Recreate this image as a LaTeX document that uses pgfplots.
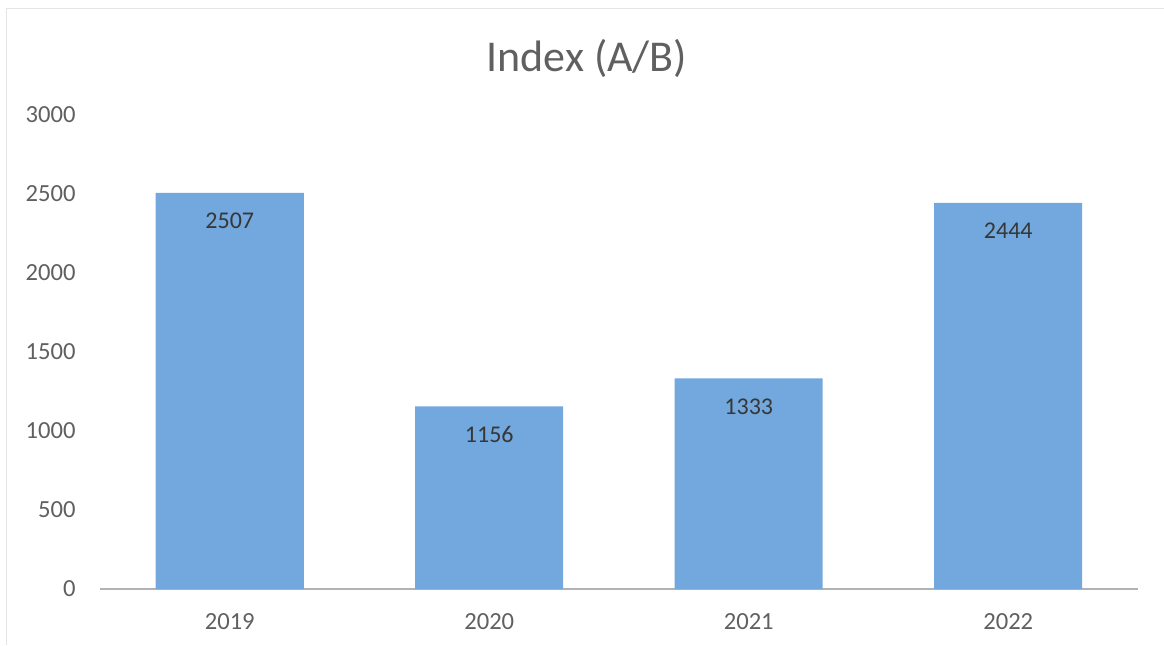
\documentclass[border=0pt]{standalone}
\usepackage{pgfplots}
\pgfplotsset{compat=1.18}
\usepackage{fontspec}
\setmainfont{Carlito}
\definecolor{barblue}{RGB}{114,168,221}
\definecolor{ticktext}{RGB}{96,96,96}
\definecolor{labeltext}{RGB}{55,55,55}
\begin{document}
\begin{tikzpicture}[x=1pt,y=1pt]
\path[use as bounding box] (0,0) rectangle (582,322.5);
\draw[black!10] (3,0) -- (3,318.5) -- (582,318.5);
\node[font=\fontsize{22}{26}\selectfont, text=ticktext] at (293.5,293.5) {Index (A/B)};
\begin{axis}[
  at={(50pt,28pt)}, anchor=south west,
  scale only axis, width=519pt, height=237pt,
  xmin=-0.5, xmax=3.5, ymin=0, ymax=3000,
  ybar, bar width=74pt,
  axis x line=bottom, axis y line=left,
  x axis line style={-, draw=black!30, line width=0.8pt},
  y axis line style={draw=none},
  major tick length=0pt, tick style={draw=none},
  xtick={0,1,2,3}, xticklabels={2019,2020,2021,2022},
  ytick={0,500,1000,1500,2000,2500,3000},
  /pgf/number format/1000 sep={},
  /pgf/number format/assume math mode=true,
  ticklabel style={font=\fontsize{12.3}{14}\selectfont, text=ticktext},
  yticklabel style={inner sep=0pt, xshift=-12pt},
  xticklabel style={inner sep=0pt, yshift=-12pt},
  nodes near coords,
  every node near coord/.append style={anchor=north, yshift=-6.5pt, font=\fontsize{12}{14}\selectfont, text=labeltext},
]
\addplot[fill=barblue, draw=none] coordinates {(0,2507) (1,1156) (2,1333) (3,2444)};
\end{axis}
\end{tikzpicture}
\end{document}
